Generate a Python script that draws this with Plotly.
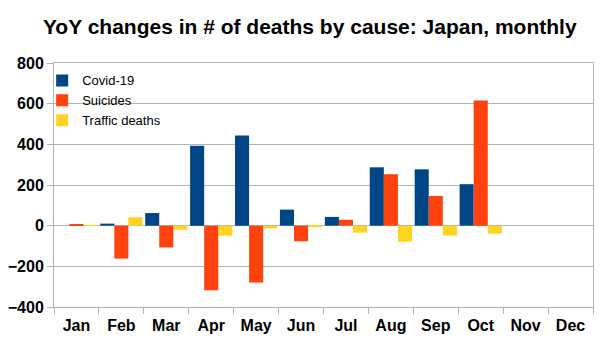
import plotly.graph_objects as go

months = ["Jan", "Feb", "Mar", "Apr", "May", "Jun", "Jul", "Aug", "Sep", "Oct", "Nov", "Dec"]
covid = [0, 10, 62, 393, 444, 79, 43, 287, 277, 204, None, None]
suicides = [5, -162, -107, -318, -280, -77, 29, 253, 146, 615, None, None]
traffic = [3, 41, -20, -49, -13, -3, -34, -79, -49, -39, None, None]

colors = ["#004586", "#ff420e", "#ffd320"]
names = ["Covid-19", "Suicides", "Traffic deaths"]

fig = go.Figure()
for name, vals, col in zip(names, [covid, suicides, traffic], colors):
    fig.add_trace(go.Bar(x=months, y=vals, name=name, marker=dict(color=col, line=dict(width=0))))

font = "Liberation Sans, Arial, sans-serif"
fig.update_layout(
    width=605, height=340,
    margin=dict(l=54, r=12, t=63, b=33, autoexpand=False),
    paper_bgcolor="white", plot_bgcolor="white",
    barmode="group", bargap=0.06, bargroupgap=0,
    title=dict(text="YoY changes in # of deaths by cause: Japan, monthly",
               x=0.512, xanchor="center", y=0.922, yanchor="middle",
               font=dict(family=font, size=21, color="black", weight="bold")),
    legend=dict(x=-0.022, y=0.99, xanchor="left", yanchor="top",
                bgcolor="rgba(0,0,0,0)", font=dict(family=font, size=13, color="black"),
                tracegroupgap=0),
    xaxis=dict(tickson="boundaries", ticks="outside", ticklen=6, tickcolor="#b3b3b3",
               showline=True, linecolor="#b3b3b3", mirror=True, showgrid=False,
               ticklabelstandoff=4, automargin=False,
               tickfont=dict(family=font, size=16, color="black", weight="bold")),
    yaxis=dict(range=[-400, 800], dtick=200, ticks="outside", ticklen=6, tickcolor="#b3b3b3",
               showline=True, linecolor="#b3b3b3", mirror=True, automargin=False,
               showgrid=True, gridcolor="#b3b3b3", zeroline=True, zerolinecolor="#b3b3b3",
               zerolinewidth=1,
               tickfont=dict(family=font, size=16, color="black", weight="bold")),
)
fig.write_html("out.html")
